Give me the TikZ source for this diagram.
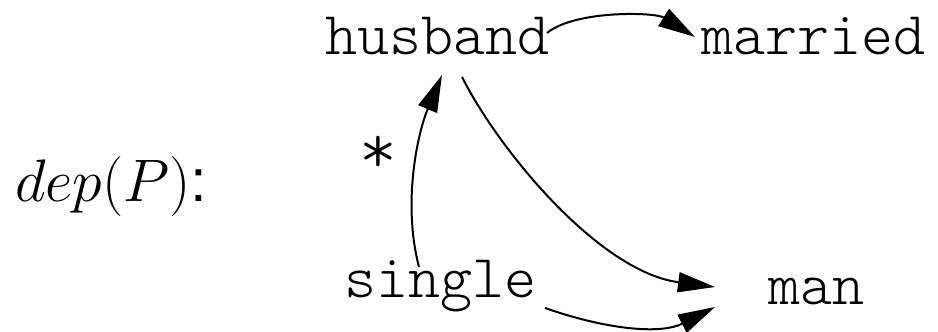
\documentclass[tikz,border=0pt]{standalone}
\usepackage{fix-cm}
\usepackage{fontspec}
\newfontfamily\sansf{Liberation Sans}
\usetikzlibrary{arrows.meta}
\begin{document}
\begin{tikzpicture}[x=1pt,y=1pt,
  lbl/.style={inner sep=0pt, anchor=base west, font=\fontsize{61}{70}\fontseries{l}\ttfamily\selectfont},
  edge/.style={line width=2pt, -{Triangle[length=37pt,width=20pt]}}]
\useasboundingbox (0,0) rectangle (938,332);
\node[lbl] (husband) at (325,277) {husband};
\node[lbl] (married) at (701,277) {married};
\node[lbl] (single) at (344,34) {single};
\node[lbl] (man) at (768,27) {man};
\node[lbl, anchor=base, font=\fontsize{72}{80}\fontseries{l}\ttfamily\selectfont] (star) at (378,158) {*};
\node[inner sep=0pt, anchor=base west, font=\fontsize{60}{70}\selectfont] (dep) at (15,130) {$dep(P)${\sansf :}};
\draw[edge] ([shift={(222,22)}]husband.base west) .. controls (575,322) and (655,320) .. ([shift={(-6,18)}]married.base west);
\draw[edge] ([shift={(75,31)}]single.base west) .. controls (402,130) and (418,200) .. ([shift={(117,-20)}]husband.base west);
\draw[edge] ([shift={(137,-22)}]husband.base west) .. controls (500,180) and (600,60) .. ([shift={(-53,18)}]man.base west);
\draw[edge] ([shift={(201,-10)}]single.base west) .. controls (605,3) and (660,-3) .. ([shift={(-53,-2)}]man.base west);
\end{tikzpicture}
\end{document}
